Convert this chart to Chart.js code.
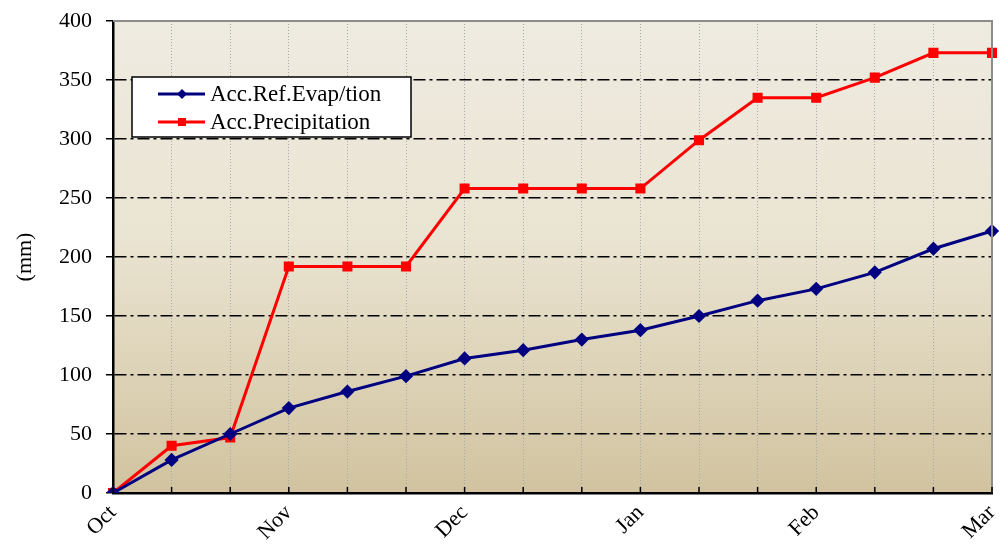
<!DOCTYPE html>
<html>
<head>
<meta charset="utf-8">
<script src="https://cdn.jsdelivr.net/npm/chart.js@4.4.1/dist/chart.umd.min.js"></script>
<style>
  html, body { margin: 0; padding: 0; background: #fff; }
  #wrap { width: 1008px; height: 547px; }
</style>
</head>
<body>
<div id="wrap"><canvas id="canvas"></canvas></div>
<script>
'use strict';

const monthLabels = ['Oct', '', '', 'Nov', '', '', 'Dec', '', '', 'Jan', '', '', 'Feb', '', '', 'Mar'];
const evapValues = [0, 28, 50, 72, 86, 99, 114, 121, 130, 138, 150, 163, 173, 187, 207, 222];
const precipValues = [0, 40, 47, 192, 192, 192, 258, 258, 258, 258, 299, 335, 335, 352, 373, 373];
const seriesNames = ['Acc.Ref.Evap/tion', 'Acc.Precipitation'];
const yMin = 0;
const yMax = 400;
const yStep = 50;

const fontFamily = '"Liberation Serif", "DejaVu Serif", serif';

// gradient fill behind the plot, plus the grey frame on top/right
const plotBackground = {
  id: 'plotBackground',
  beforeDraw(chart) {
    const { ctx, chartArea: a } = chart;
    const g = ctx.createLinearGradient(0, a.top, 0, a.bottom);
    g.addColorStop(0, '#EEEBE1');
    g.addColorStop(0.45, '#EAE4D2');
    g.addColorStop(1, '#D1C39F');
    ctx.save();
    ctx.fillStyle = g;
    ctx.fillRect(a.left, a.top, a.right - a.left, a.bottom - a.top);
    ctx.restore();
  },
  afterDatasetsDraw(chart) {
    const { ctx, chartArea: a } = chart;
    ctx.save();
    ctx.strokeStyle = '#8c8c8c';
    ctx.lineWidth = 2;
    ctx.beginPath();
    ctx.moveTo(a.left, a.top);
    ctx.lineTo(a.right, a.top);
    ctx.lineTo(a.right, a.bottom);
    ctx.stroke();
    // x tick marks point inwards
    const xs = chart.scales.x;
    ctx.strokeStyle = '#000';
    ctx.lineWidth = 1.5;
    ctx.beginPath();
    for (let i = 0; i < monthLabels.length; i++) {
      const px = xs.getPixelForTick(i);
      ctx.moveTo(px, a.bottom);
      ctx.lineTo(px, a.bottom - 6);
    }
    ctx.stroke();
    ctx.restore();
  }
};

// boxed legend sitting inside the plot area
const boxLegend = {
  id: 'boxLegend',
  afterDraw(chart) {
    const { ctx, chartArea: a } = chart;
    const x = a.left + 19;
    const y = a.top + 56;
    const w = 279;
    const h = 60;
    ctx.save();
    ctx.fillStyle = '#fff';
    ctx.fillRect(x, y, w, h);
    ctx.strokeStyle = '#000';
    ctx.lineWidth = 1.5;
    ctx.strokeRect(x, y, w, h);
    ctx.font = '23px ' + fontFamily;
    ctx.textBaseline = 'middle';
    chart.data.datasets.forEach((ds, i) => {
      const ly = y + 17 + i * 28;
      ctx.strokeStyle = ds.borderColor;
      ctx.lineWidth = 3;
      ctx.beginPath();
      ctx.moveTo(x + 26, ly);
      ctx.lineTo(x + 73, ly);
      ctx.stroke();
      ctx.fillStyle = ds.borderColor;
      if (ds.pointStyle === 'rectRot') {
        ctx.beginPath();
        ctx.moveTo(x + 50, ly - 5);
        ctx.lineTo(x + 55, ly);
        ctx.lineTo(x + 50, ly + 5);
        ctx.lineTo(x + 45, ly);
        ctx.closePath();
        ctx.fill();
      } else {
        ctx.fillRect(x + 46, ly - 4, 8, 8);
      }
      ctx.fillStyle = '#000';
      ctx.fillText(ds.label, x + 78, ly + 1);
    });
    ctx.restore();
  }
};

const ctx = document.getElementById('canvas').getContext('2d');
new Chart(ctx, {
  type: 'line',
  data: {
    labels: monthLabels,
    datasets: [{
      label: seriesNames[0],
      data: evapValues,
      borderColor: '#000080',
      backgroundColor: '#000080',
      borderWidth: 3,
      pointStyle: 'rectRot',
      pointRadius: 5,
      pointHoverRadius: 5,
      tension: 0
    }, {
      label: seriesNames[1],
      data: precipValues,
      borderColor: '#FF0000',
      backgroundColor: '#FF0000',
      borderWidth: 3,
      pointStyle: 'rect',
      pointRadius: 5,
      pointHoverRadius: 5,
      tension: 0
    }]
  },
  options: {
    responsive: true,
    maintainAspectRatio: false,
    animation: false,
    layout: { padding: { top: 21, right: 16, left: 0, bottom: 0 } },
    plugins: {
      legend: { display: false },
      tooltip: { enabled: false }
    },
    scales: {
      x: {
        offset: false,
        grid: {
          color: '#a8a8a8',
          lineWidth: 1,
          drawTicks: false
        },
        border: { display: true, color: '#000', width: 2.5, dash: [1, 2] },
        ticks: {
          autoSkip: false,
          maxRotation: 45,
          minRotation: 45,
          padding: 7,
          color: '#000',
          font: { family: fontFamily, size: 22 }
        },
        afterFit(scale) {
          scale.height = 54;
          scale.paddingRight = 0;
          scale.paddingLeft = 0;
        }
      },
      y: {
        min: yMin,
        max: yMax,
        ticks: {
          stepSize: yStep,
          padding: 14,
          color: '#000',
          font: { family: fontFamily, size: 22 }
        },
        grid: {
          color: (c) => (c.tick && (c.tick.value === yMin || c.tick.value === yMax)) ? 'rgba(0,0,0,0)' : '#000',
          lineWidth: 1.5,
          tickColor: '#000',
          tickLength: 7,
          tickWidth: 1.5
        },
        border: { display: true, color: '#000', width: 2.5, dash: [12, 4, 3, 4] },
        title: {
          display: true,
          text: '(mm)',
          color: '#000',
          padding: { top: 12, bottom: 0 },
          font: { family: fontFamily, size: 22 }
        },
        afterFit(scale) {
          scale.width = 113;
          scale.paddingTop = 0;
          scale.paddingBottom = 0;
        }
      }
    }
  },
  plugins: [plotBackground, boxLegend]
});
</script>
</body>
</html>
